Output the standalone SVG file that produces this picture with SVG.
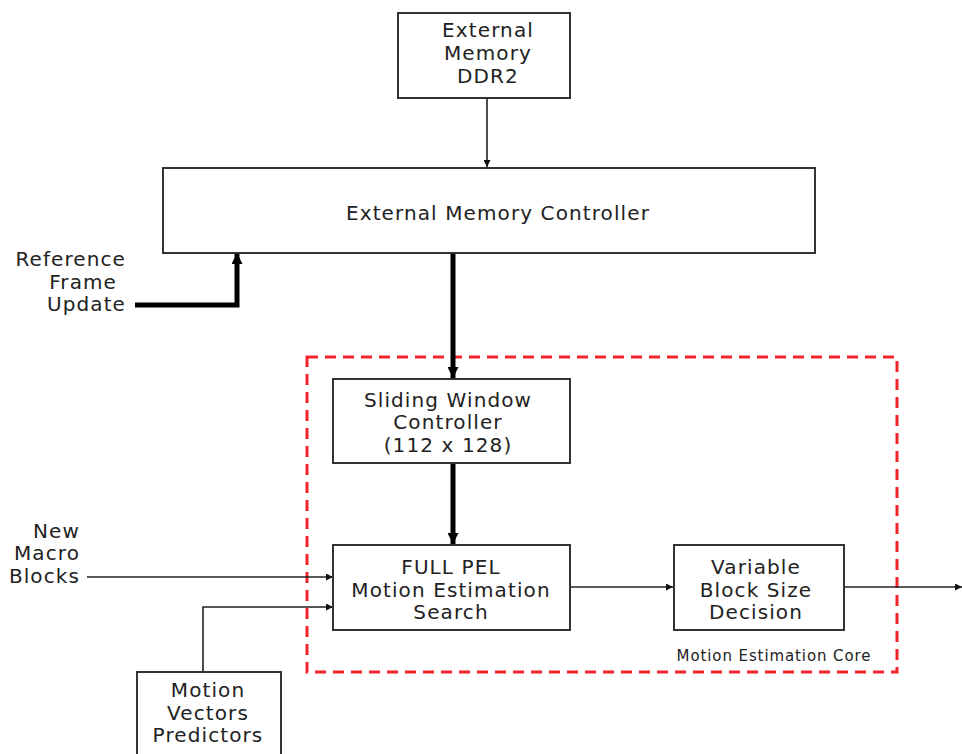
<svg xmlns="http://www.w3.org/2000/svg" width="962" height="754" viewBox="0 0 962 754">
  <style>
    .box { fill: #fff; stroke: #333; stroke-width: 2; }
    .t { font-family: "DejaVu Sans", "Liberation Sans", Arial, sans-serif; font-size: 20px; letter-spacing: 1.1px; fill: #222; text-anchor: middle; }
    .tr { text-anchor: end; }
    .thin { fill: none; stroke: #222; stroke-width: 1.6; }
    .thick { fill: none; stroke: #000; stroke-width: 5; }
    .core { fill: none; stroke: #f0242a; stroke-width: 3; stroke-dasharray: 11 7; }
    .lbl { font-family: "DejaVu Sans", "Liberation Sans", Arial, sans-serif; font-size: 15px; letter-spacing: 0.9px; fill: #222; text-anchor: middle; }
  </style>
  <defs>
    <marker id="ah" viewBox="0 0 10 10" refX="10" refY="5" markerWidth="10" markerHeight="7" markerUnits="userSpaceOnUse" orient="auto">
      <path d="M0,0 L10,5 L0,10 z" fill="#111"/>
    </marker>
    <marker id="ahb" viewBox="0 0 10 10" refX="10" refY="5" markerWidth="16" markerHeight="11" markerUnits="userSpaceOnUse" orient="auto">
      <path d="M0,0 L10,5 L0,10 z" fill="#000"/>
    </marker>
  </defs>

  <!-- dashed boundary of the motion estimation core -->
  <rect class="core" x="307" y="357" width="590" height="315"/>
  <text class="lbl" x="774" y="661">Motion Estimation Core</text>

  <g id="connectors">
    <line class="thin" x1="487" y1="98" x2="487" y2="167" marker-end="url(#ah)"/>
    <line class="thick" x1="453" y1="254" x2="453" y2="378" marker-end="url(#ahb)"/>
    <polyline class="thick" points="135,305 237,305 237,253" marker-end="url(#ahb)"/>
    <line class="thick" x1="453" y1="464" x2="453" y2="544" marker-end="url(#ahb)"/>
    <line class="thin" x1="87" y1="577" x2="333" y2="577" marker-end="url(#ah)"/>
    <polyline class="thin" points="203,672 203,607 333,607" marker-end="url(#ah)"/>
    <line class="thin" x1="570" y1="587" x2="673" y2="587" marker-end="url(#ah)"/>
    <line class="thin" x1="844" y1="587" x2="962" y2="587" marker-end="url(#ah)"/>
  </g>

  <g id="ddr2">
    <rect class="box" x="398" y="13" width="172" height="85"/>
    <text class="t" x="488" y="37">External</text>
    <text class="t" x="488" y="60">Memory</text>
    <text class="t" x="488" y="83">DDR2</text>
  </g>

  <g id="emc">
    <rect class="box" x="163" y="168" width="652" height="85"/>
    <text class="t" x="498" y="220">External Memory Controller</text>
  </g>

  <g id="ref-frame">
    <text class="t tr" x="126" y="266">Reference</text>
    <text class="t tr" x="117" y="289">Frame</text>
    <text class="t tr" x="126" y="311">Update</text>
  </g>

  <g id="swc">
    <rect class="box" x="333" y="379" width="237" height="84"/>
    <text class="t" x="448" y="407">Sliding Window</text>
    <text class="t" x="448" y="429">Controller</text>
    <text class="t" x="448" y="452">(112 x 128)</text>
  </g>

  <g id="fullpel">
    <rect class="box" x="333" y="545" width="237" height="85"/>
    <text class="t" x="451" y="574">FULL PEL</text>
    <text class="t" x="451" y="597">Motion Estimation</text>
    <text class="t" x="451" y="619">Search</text>
  </g>

  <g id="vbsd">
    <rect class="box" x="674" y="545" width="170" height="85"/>
    <text class="t" x="756" y="574">Variable</text>
    <text class="t" x="756" y="597">Block Size</text>
    <text class="t" x="756" y="619">Decision</text>
  </g>

  <g id="new-mb">
    <text class="t tr" x="80" y="538">New</text>
    <text class="t tr" x="80" y="560">Macro</text>
    <text class="t tr" x="80" y="583">Blocks</text>
  </g>

  <g id="mvp">
    <rect class="box" x="137" y="672" width="144" height="90"/>
    <text class="t" x="208" y="697">Motion</text>
    <text class="t" x="208" y="720">Vectors</text>
    <text class="t" x="208" y="742">Predictors</text>
  </g>
</svg>
